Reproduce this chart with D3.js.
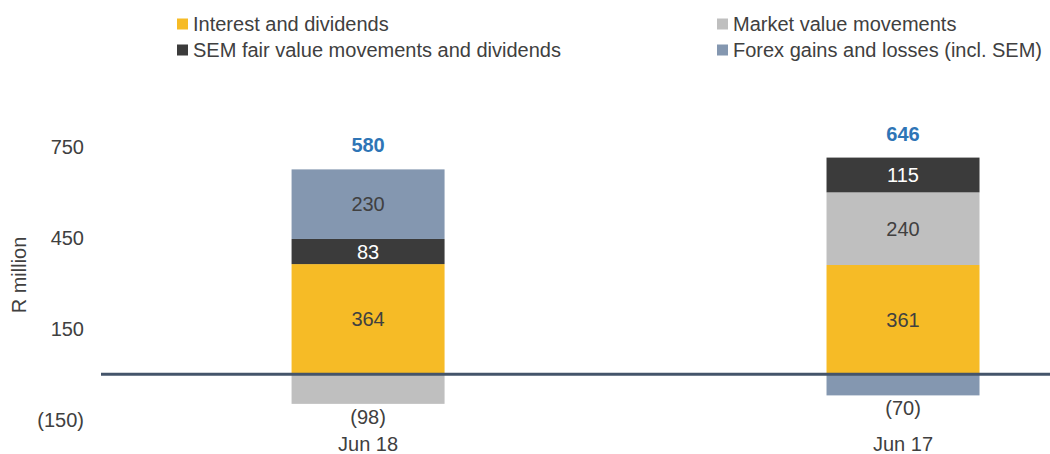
<!DOCTYPE html>
<html>
<head>
<meta charset="utf-8">
<script src="https://cdn.jsdelivr.net/npm/d3@7"></script>
<style>
  html, body { margin: 0; padding: 0; background: #fff; }
  svg { display: block; font-family: "Liberation Sans", Arial, sans-serif; }
</style>
</head>
<body>
<svg id="chart" width="1050" height="454"></svg>
<script>
// Investment income components, R million
const categories = ["Jun 18", "Jun 17"];
const seriesNames = [
  "Interest and dividends",
  "Market value movements",
  "SEM fair value movements and dividends",
  "Forex gains and losses (incl. SEM)"
];
const interestDividends = [364, 361];
const marketValue = [-98, 240];
const semFairValue = [83, 115];
const forexGains = [230, -70];
const totals = [580, 646];
const tickValues = [-150, 150, 450, 750];

const colors = ["#F6BB26", "#BFBFBF", "#3B3B3B", "#8497B0"];
const labelColors = ["#404040", "#404040", "#FFFFFF", "#404040"];
const FS = "20px";

const seriesValues = [interestDividends, marketValue, semFairValue, forexGains];
const rows = categories.map((c, i) => {
  const r = { category: c };
  seriesNames.forEach((s, k) => { r[s] = seriesValues[k][i]; });
  return r;
});

const svg = d3.select("#chart");
const fmt = v => v < 0 ? "(" + Math.abs(v) + ")" : String(v);

const x = d3.scaleBand()
  .domain(categories)
  .range([101, 1050])
  .paddingInner(0.714)
  .paddingOuter(0.244)
  .align(0.73);

const y = d3.scaleLinear()
  .domain([-150, 750])
  .range([419.6, 147.3]);

const stacked = d3.stack()
  .keys(seriesNames)
  .offset(d3.stackOffsetDiverging)(rows);

// y axis labels (no line, no ticks)
const yAxis = svg.append("g")
  .attr("transform", "translate(84,0)")
  .call(d3.axisLeft(y).tickValues(tickValues).tickSize(0).tickPadding(0).tickFormat(fmt));
yAxis.select(".domain").remove();
yAxis.selectAll("text")
  .attr("fill", "#404040")
  .style("font-size", FS)
  .style("font-family", "'Liberation Sans', Arial, sans-serif");

svg.append("text")
  .attr("transform", "translate(26,275) rotate(-90)")
  .attr("text-anchor", "middle")
  .attr("fill", "#404040")
  .style("font-size", FS)
  .text("R million");

// stacked bars
const layers = svg.append("g").selectAll("g")
  .data(stacked)
  .join("g")
  .attr("fill", (d, i) => colors[i]);

layers.selectAll("rect")
  .data(d => d)
  .join("rect")
  .attr("x", d => x(d.data.category))
  .attr("width", x.bandwidth())
  .attr("y", d => y(Math.max(d[0], d[1])))
  .attr("height", d => Math.abs(y(d[0]) - y(d[1])));

// segment labels
stacked.forEach((layer, k) => {
  layer.forEach(d => {
    const v = d.data[layer.key];
    const cx = x(d.data.category) + x.bandwidth() / 2;
    if (v >= 0) {
      svg.append("text")
        .attr("x", cx)
        .attr("y", y((d[0] + d[1]) / 2))
        .attr("dy", "0.35em")
        .attr("text-anchor", "middle")
        .attr("fill", labelColors[k])
        .style("font-size", FS)
        .text(fmt(v));
    } else {
      svg.append("text")
        .attr("x", cx)
        .attr("y", y(d[0]) + 13)
        .attr("dy", "0.35em")
        .attr("text-anchor", "middle")
        .attr("fill", "#404040")
        .style("font-size", FS)
        .text(fmt(v));
    }
  });
});

// totals above each bar
const topOf = i => d3.max(stacked, l => l[i][1]);
categories.forEach((c, i) => {
  svg.append("text")
    .attr("x", x(c) + x.bandwidth() / 2)
    .attr("y", y(topOf(i)) - 24)
    .attr("dy", "0.35em")
    .attr("text-anchor", "middle")
    .attr("fill", "#2E75B6")
    .style("font-size", FS)
    .style("font-weight", "bold")
    .text(totals[i]);
});

// zero line
svg.append("line")
  .attr("x1", 101).attr("x2", 1050)
  .attr("y1", y(0)).attr("y2", y(0))
  .attr("stroke", "#44546A")
  .attr("stroke-width", 3);

// category labels
svg.append("g").selectAll("text")
  .data(categories)
  .join("text")
  .attr("x", d => x(d) + x.bandwidth() / 2)
  .attr("y", 444)
  .attr("dy", "0.35em")
  .attr("text-anchor", "middle")
  .attr("fill", "#404040")
  .style("font-size", FS)
  .text(d => d);

// legend: two columns, two rows
const legendPos = [
  { x: 177, y: 24 },
  { x: 717, y: 24 },
  { x: 177, y: 50 },
  { x: 717, y: 50 }
];
const legend = svg.append("g").selectAll("g")
  .data(seriesNames)
  .join("g")
  .attr("transform", (d, i) => `translate(${legendPos[i].x},${legendPos[i].y})`);
legend.append("rect")
  .attr("x", 0).attr("y", -5.5)
  .attr("width", 11).attr("height", 11)
  .attr("fill", (d, i) => colors[i]);
legend.append("text")
  .attr("x", 16)
  .attr("dy", "0.35em")
  .attr("fill", "#404040")
  .style("font-size", FS)
  .text(d => d);
</script>
</body>
</html>
